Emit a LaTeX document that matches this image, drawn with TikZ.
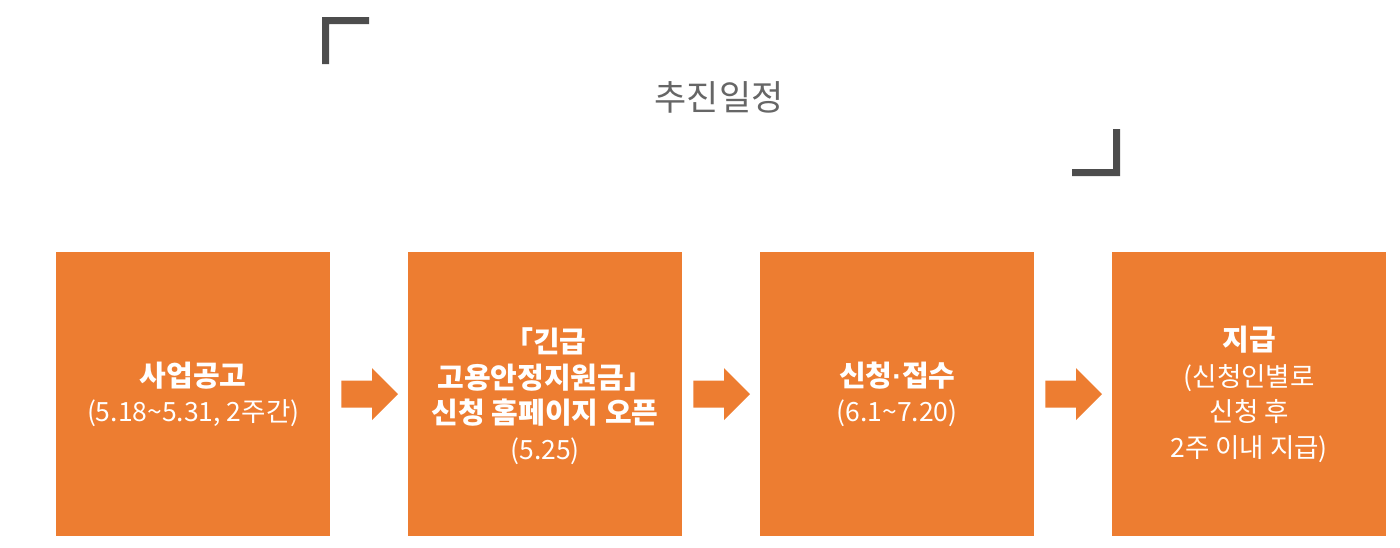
\documentclass[tikz,border=0pt]{standalone}
\usepackage{fontspec}
\setmainfont{Noto Sans CJK KR}
\newfontfamily\latinfont{Liberation Sans}
\usetikzlibrary{calc}
\definecolor{boxorange}{HTML}{ED7D31}
\definecolor{titlegray}{HTML}{666666}
\definecolor{bracketgray}{HTML}{4D4D4D}
\tikzset{
  stepbox/.style={fill=boxorange, draw=none, minimum width=274pt, minimum height=284pt, inner sep=0pt, anchor=north west},
  boxtext/.style={text=white, align=center, font=\fontsize{26.5}{35.5}\selectfont},
  blockarrow/.style={fill=boxorange, draw=none},
  bracket/.style={fill=bracketgray, draw=none}
}
\newcommand{\bt}[1]{{\fontsize{29}{35.5}\selectfont\bfseries #1}}
\begin{document}
\begin{tikzpicture}[x=1pt,y=-1pt]
\useasboundingbox (0,0) rectangle (1400,547);
% title brackets
\fill[bracket] (322,17) -- (369,17) -- (369,24) -- (329,24) -- (329,64) -- (322,64) -- cycle;
\fill[bracket] (1120,176) -- (1072,176) -- (1072,169) -- (1113,169) -- (1113,129) -- (1120,129) -- cycle;
\node[text=titlegray, font=\fontsize{35}{40}\selectfont] (title) at (719,97) {추진일정};
% boxes
\node[stepbox] (b1) at (56,252) {};
\node[stepbox] (b2) at (408,252) {};
\node[stepbox] (b3) at (760,252) {};
\node[stepbox] (b4) at (1112,252) {};
\node[boxtext] (t1) at (b1.center) {\bt{사업공고}\\(5.18\textasciitilde5.31, 2주간)};
\node[boxtext] (t2) at ($(b2.center)+(0,2)$) {\bt{「긴급}\\\bt{고용안정지원금」}\\\bt{신청 홈페이지 오픈}\\(5.25)};
\node[boxtext] (t3) at (b3.center) {\bt{신청{\latinfont·}접수}\\(6.1\textasciitilde7.20)};
\node[boxtext] (t4) at ($(b4.center)+(0,0)$) {\bt{지급}\\(신청인별로\\신청 후\\2주 이내 지급)};
% block arrows
\foreach \a/\b in {b1/b2, b2/b3, b3/b4}{
  \fill[blockarrow] ($(\a.east)+(11,-13.5)$) -- ($(\b.west)+(-36,-13.5)$) -- ($(\b.west)+(-36,-26)$)
    -- ($(\b.west)+(-10,0)$) -- ($(\b.west)+(-36,26)$) -- ($(\b.west)+(-36,13.5)$)
    -- ($(\a.east)+(11,13.5)$) -- cycle;
}
\end{tikzpicture}
\end{document}
